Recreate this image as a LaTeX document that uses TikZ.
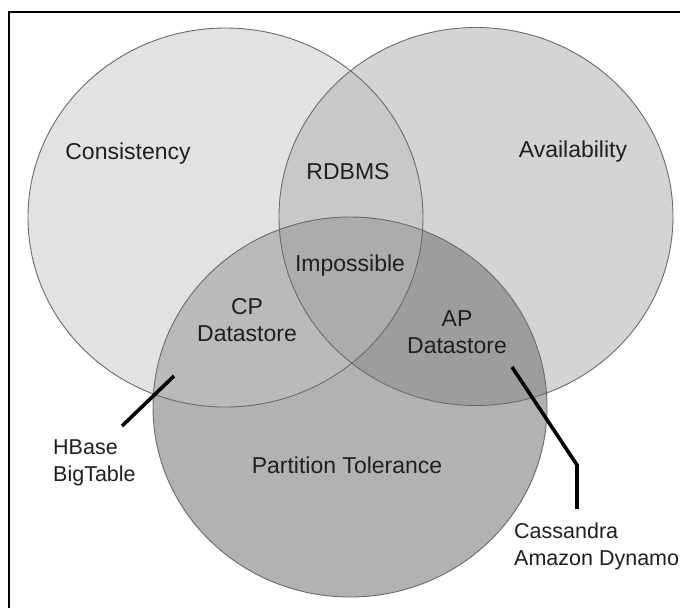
\documentclass[tikz,border=0pt]{standalone}
\usepackage{fontspec}
\setmainfont{Liberation Sans}
\definecolor{cOnly}{gray}{0.885}
\definecolor{aOnly}{gray}{0.83}
\definecolor{caReg}{gray}{0.785}
\definecolor{pOnly}{gray}{0.70}
\definecolor{cpReg}{gray}{0.73}
\definecolor{apReg}{gray}{0.615}
\definecolor{capReg}{gray}{0.675}
\definecolor{rim}{gray}{0.42}
\definecolor{ink}{gray}{0.12}
\begin{document}
\begin{tikzpicture}[x=1pt,y=-1pt,
  lbl/.style={font=\fontsize{23}{27}\selectfont, text=ink, inner sep=0pt},
  sidelbl/.style={font=\fontsize{21.5}{27}\selectfont, text=ink, inner sep=0pt, align=left, anchor=west},
  pointer/.style={line width=3.6pt, black},
  rimline/.style={draw=rim, line width=0.9pt}]
% canvas and the two visible edges of the frame
\useasboundingbox (0,0) rectangle (680,608);
\fill[white] (0,0) rectangle (680,608);
\draw[line width=2pt] (9,608) -- (9,11.5) -- (680,11.5);

% the three sets
\def\setC{(225.5,217.5) ellipse [x radius=197.5pt, y radius=189.5pt]}
\def\setA{(476,216.5) ellipse [x radius=197pt, y radius=189pt]}
\def\setP{(350,407) ellipse [x radius=197pt, y radius=190pt]}

\fill[cOnly] \setC;
\fill[aOnly] \setA;
\fill[pOnly] \setP;
\begin{scope}\clip \setC; \fill[caReg] \setA; \end{scope}
\begin{scope}\clip \setC; \fill[cpReg] \setP; \end{scope}
\begin{scope}\clip \setA; \fill[apReg] \setP; \end{scope}
\begin{scope}\clip \setC; \clip \setA; \fill[capReg] \setP; \end{scope}
\draw[rimline] \setC;
\draw[rimline] \setA;
\draw[rimline] \setP;

% region labels
\node[lbl, anchor=base] (cons) at (128,159) {Consistency};
\node[lbl, anchor=base] (avail) at (573,157) {Availability};
\node[lbl, anchor=base] (rdbms) at (348,179) {RDBMS};
\node[lbl, anchor=base] (imposs) at (350,271) {Impossible};
\node[lbl, align=center] (cp) at (247,320.5) {CP\\Datastore};
\node[lbl, align=center] (ap) at (457,332) {AP\\Datastore};
\node[lbl, anchor=base] (part) at (347,473) {Partition Tolerance};

% example systems
\node[sidelbl] (hbase) at (53,463) {HBase\\BigTable};
\node[sidelbl] (cass) at (514,546) {Cassandra\\Amazon Dynamo};

\coordinate (cpTip) at (174,376);
\coordinate (cpEnd) at (122,426);
\coordinate (apTip) at (512,367);
\coordinate (apBend) at (577,465);
\coordinate (apEnd) at (577,509);
\draw[pointer] (cpTip) -- (cpEnd);
\draw[pointer, line join=miter] (apTip) -- (apBend) -- (apEnd);
\end{tikzpicture}
\end{document}
